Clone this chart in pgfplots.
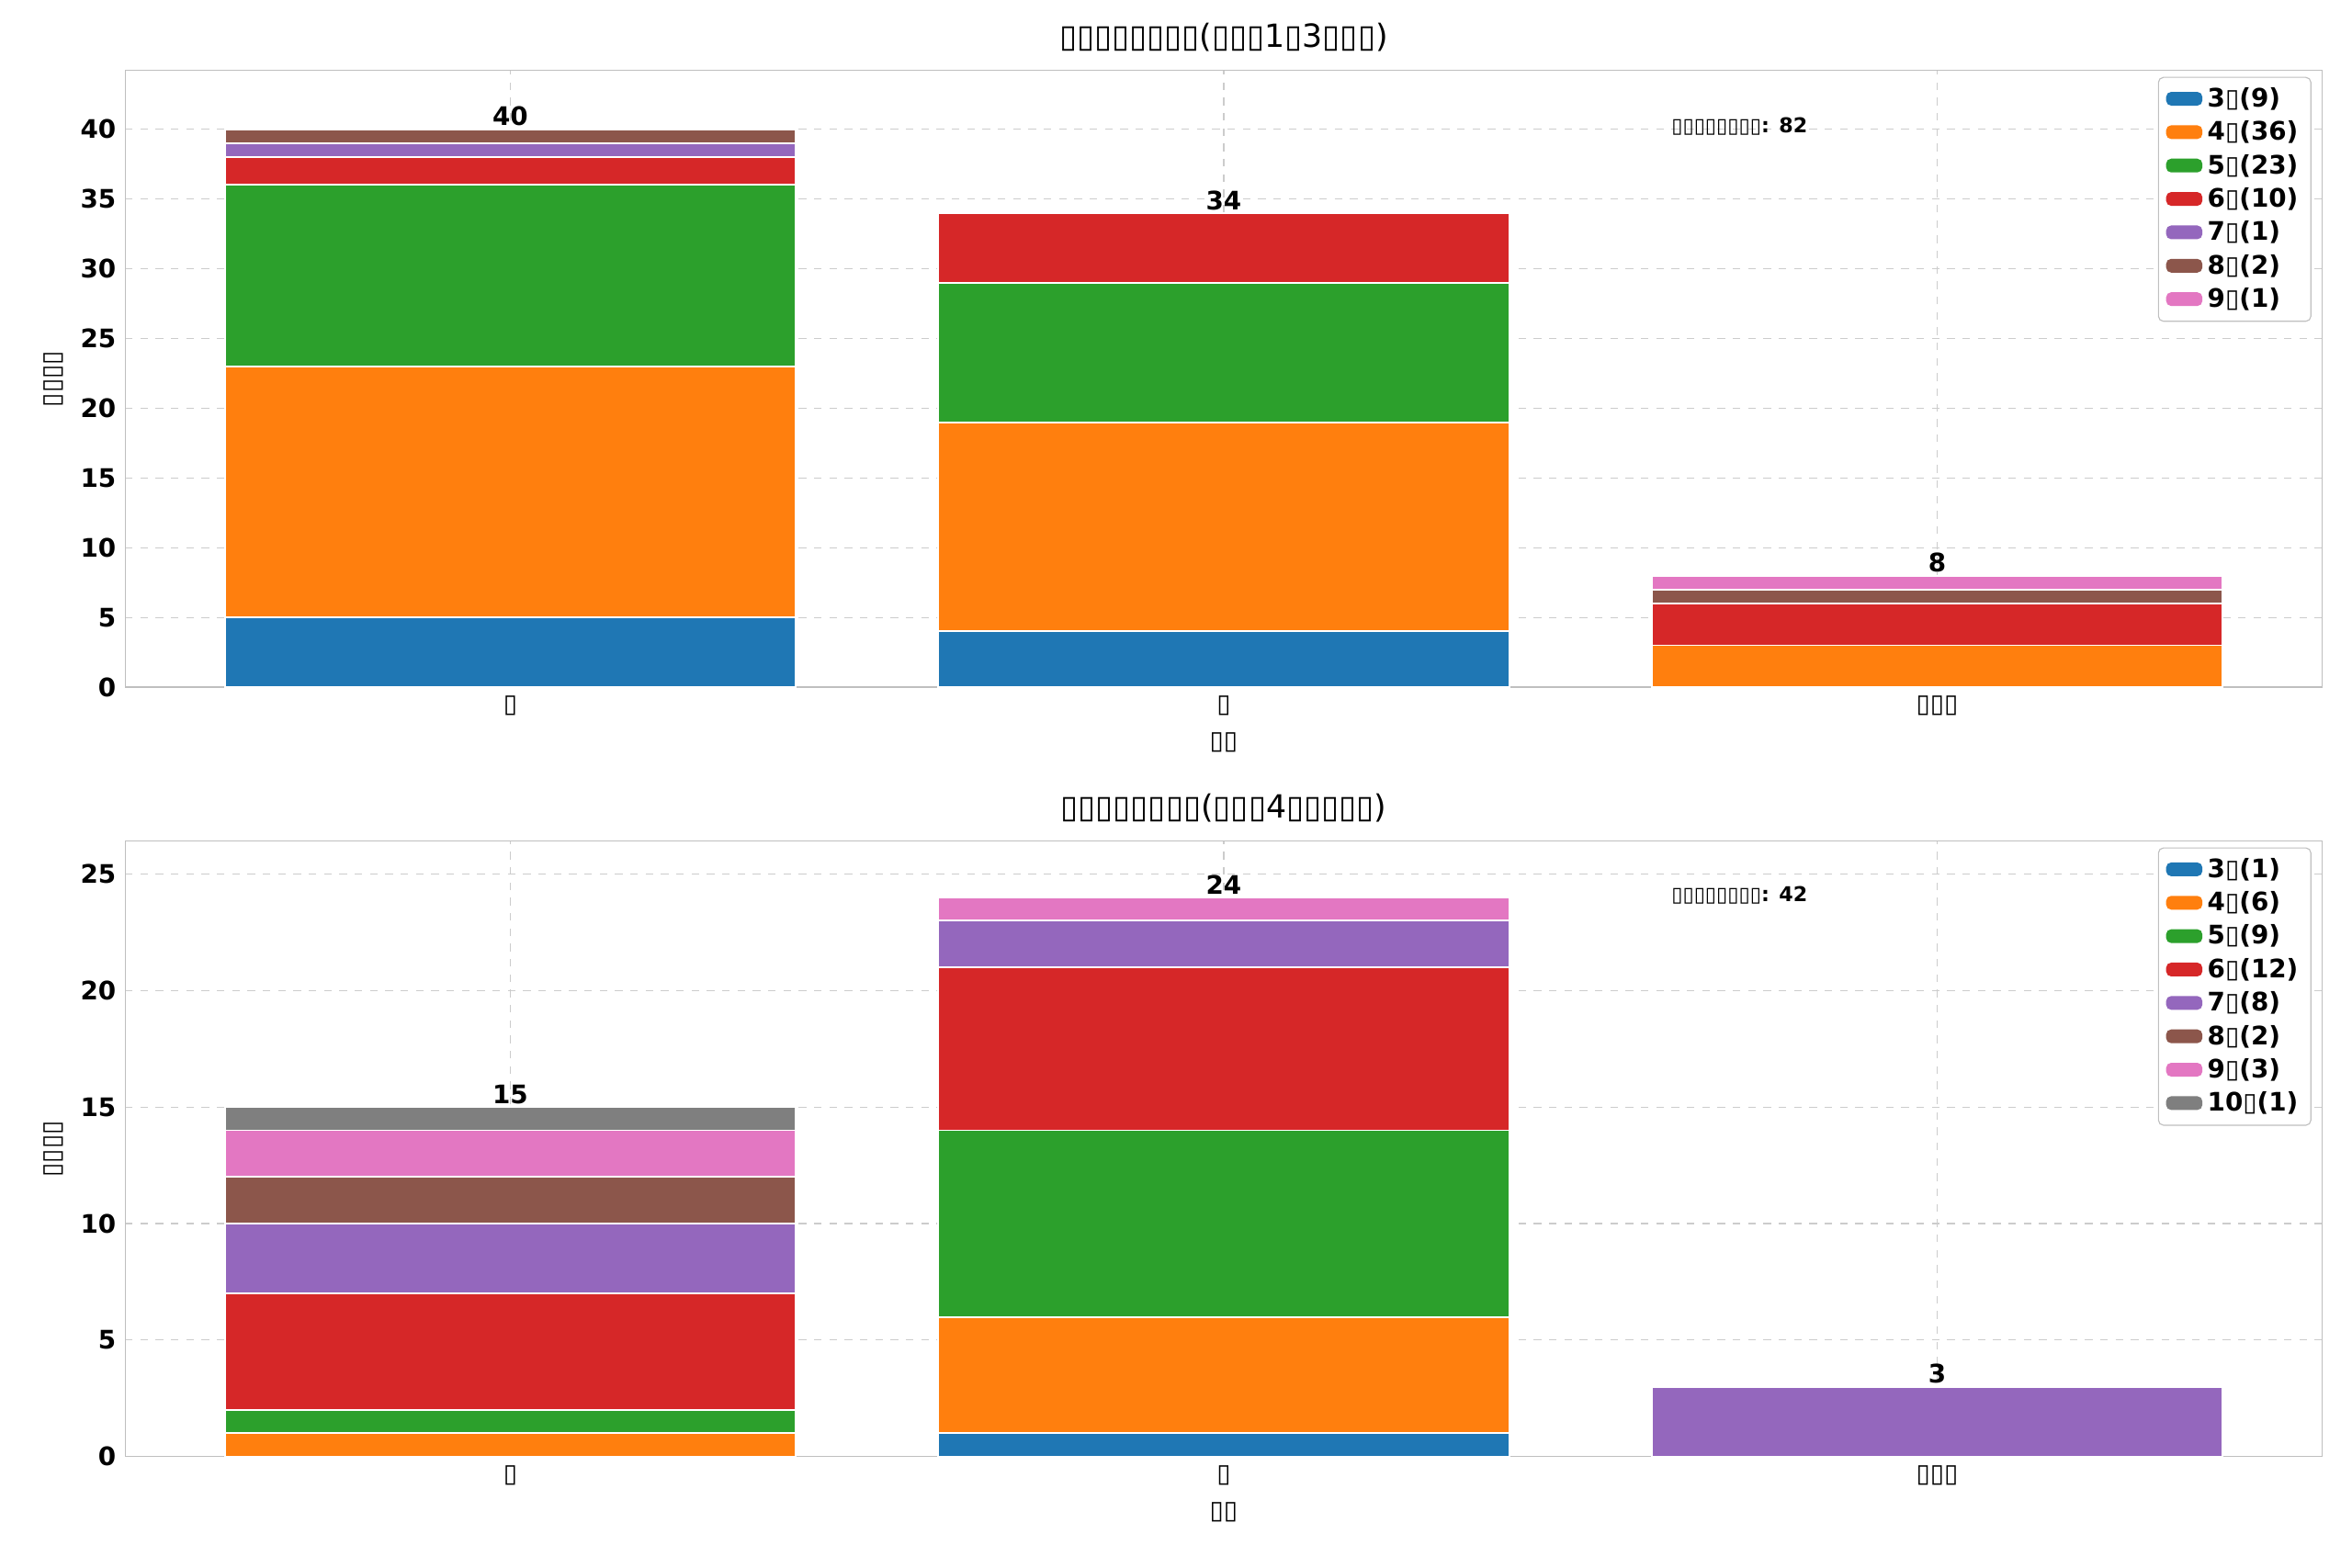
\documentclass[border=0pt]{standalone}
\usepackage{fontspec}
\setmainfont{DejaVu Sans}
\usepackage{pgfplots}
\pgfplotsset{compat=1.18}
\definecolor{c0}{HTML}{1F77B4}\definecolor{c1}{HTML}{FF7F0E}\definecolor{c2}{HTML}{2CA02C}
\definecolor{c3}{HTML}{D62728}\definecolor{c4}{HTML}{9467BD}\definecolor{c5}{HTML}{8C564B}
\definecolor{c6}{HTML}{E377C2}\definecolor{c7}{HTML}{7F7F7F}
\newcommand{\T}{▯}
\pgfplotsset{myax/.style={
  scale only axis, width=861pt, ybar stacked, bar width=0.8,
  xmin=-0.54, xmax=2.54, xtick={0,1,2},
  xticklabels={\T,\T,\T\T\T},
  /pgf/number format/assume math mode=true,
  yticklabel style={font=\bfseries\fontsize{10}{12}\selectfont},
  xticklabel style={font=\fontsize{10}{12}\selectfont},
  grid=major, major grid style={dashed,color=black!20},
  axis line style={black!25}, tick style={draw=none},
  every axis plot/.append style={draw=white,line width=0.7pt},
  xlabel={\T\T}, ylabel={\T\T\T\T},
  label style={font=\fontsize{10}{12}\selectfont},
  title style={font=\fontsize{12.5}{14}\selectfont, yshift=-2pt},
  legend style={at={(0.995,0.99)},anchor=north east, font=\bfseries\fontsize{10}{12}\selectfont,
    draw=black!25, rounded corners=2pt, row sep=0pt},
  legend cell align=left, area legend,
  legend image code/.code={\fill[##1,draw=none] (0cm,-0.09cm) rectangle (0.5cm,0.1cm);},
}}
\begin{document}
\begin{tikzpicture}
\path (0,0) rectangle (921.6pt,614.5pt);
\begin{axis}[myax, at={(49pt,345.2pt)}, anchor=south west, height=241.6pt,
  ymin=0, ymax=44.2, ytick={0,5,...,40},
  title={\T\T\T\T\T\T\T\T(\T\T\T1\T3\T\T\T)}]
\addplot[fill=c0] coordinates {(0,5)(1,4)(2,0)}; \addlegendentry{3\T(9)}
\addplot[fill=c1] coordinates {(0,18)(1,15)(2,3)}; \addlegendentry{4\T(36)}
\addplot[fill=c2] coordinates {(0,13)(1,10)(2,0)}; \addlegendentry{5\T(23)}
\addplot[fill=c3] coordinates {(0,2)(1,5)(2,3)}; \addlegendentry{6\T(10)}
\addplot[fill=c4] coordinates {(0,1)(1,0)(2,0)}; \addlegendentry{7\T(1)}
\addplot[fill=c5] coordinates {(0,1)(1,0)(2,1)}; \addlegendentry{8\T(2)}
\addplot[fill=c6] coordinates {(0,0)(1,0)(2,1)}; \addlegendentry{9\T(1)}
\node[above,inner sep=1pt,font=\bfseries\fontsize{10}{12}\selectfont] at (axis cs:0,40) {40};
\node[above,inner sep=1pt,font=\bfseries\fontsize{10}{12}\selectfont] at (axis cs:1,34) {34};
\node[above,inner sep=1pt,font=\bfseries\fontsize{10}{12}\selectfont] at (axis cs:2,8) {8};
\node[anchor=west,font=\bfseries\fontsize{8}{10}\selectfont] at (axis cs:1.615,40.2) {\T\T\T\T\T\T\T\T: 82};
\end{axis}
\begin{axis}[myax, at={(49pt,43.6pt)}, anchor=south west, height=241.2pt,
  ymin=0, ymax=26.4, ytick={0,5,...,25},
  title={\T\T\T\T\T\T\T\T(\T\T\T4\T\T\T\T\T)}]
\addplot[fill=c0] coordinates {(0,0)(1,1)(2,0)}; \addlegendentry{3\T(1)}
\addplot[fill=c1] coordinates {(0,1)(1,5)(2,0)}; \addlegendentry{4\T(6)}
\addplot[fill=c2] coordinates {(0,1)(1,8)(2,0)}; \addlegendentry{5\T(9)}
\addplot[fill=c3] coordinates {(0,5)(1,7)(2,0)}; \addlegendentry{6\T(12)}
\addplot[fill=c4] coordinates {(0,3)(1,2)(2,3)}; \addlegendentry{7\T(8)}
\addplot[fill=c5] coordinates {(0,2)(1,0)(2,0)}; \addlegendentry{8\T(2)}
\addplot[fill=c6] coordinates {(0,2)(1,1)(2,0)}; \addlegendentry{9\T(3)}
\addplot[fill=c7] coordinates {(0,1)(1,0)(2,0)}; \addlegendentry{10\T(1)}
\node[above,inner sep=1pt,font=\bfseries\fontsize{10}{12}\selectfont] at (axis cs:0,15) {15};
\node[above,inner sep=1pt,font=\bfseries\fontsize{10}{12}\selectfont] at (axis cs:1,24) {24};
\node[above,inner sep=1pt,font=\bfseries\fontsize{10}{12}\selectfont] at (axis cs:2,3) {3};
\node[anchor=west,font=\bfseries\fontsize{8}{10}\selectfont] at (axis cs:1.615,24.1) {\T\T\T\T\T\T\T\T: 42};
\end{axis}
\end{tikzpicture}
\end{document}
